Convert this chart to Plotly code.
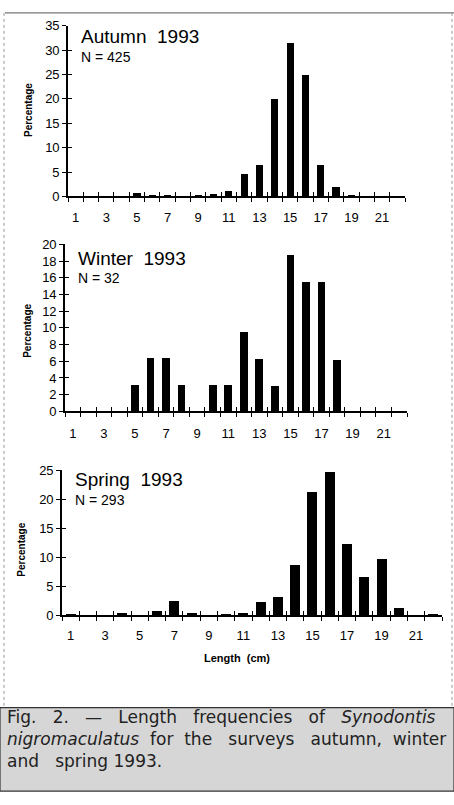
import plotly.graph_objects as go

# ---------------- data ----------------
lengths = list(range(1, 23))
autumn = [0, 0, 0, 0, 0.7, 0.3, 0.3, 0, 0.3, 0.5, 1.2, 4.6, 6.5, 20.0, 31.5, 25.0, 6.6, 2.0, 0.4, 0.1, 0.1, 0]
winter = [0, 0, 0, 0, 3.1, 6.3, 6.3, 3.1, 0, 3.1, 3.1, 9.4, 6.2, 3.0, 18.7, 15.4, 15.4, 6.1, 0, 0, 0, 0]
spring = [0.1, 0, 0, 0.4, 0, 0.7, 2.5, 0.4, 0, 0.3, 0.4, 2.2, 3.2, 8.6, 21.3, 24.7, 12.3, 6.6, 9.7, 1.3, 0, 0.3]

panel_titles = ["Autumn  1993", "Winter  1993", "Spring  1993"]
panel_n = ["N = 425", "N = 32", "N = 293"]
y_ranges = [35, 20, 25]
y_dticks = [5, 2, 5]
x_ticklabels = [str(v) for v in range(1, 22, 2)]
x_tickvals = list(range(1, 22, 2))
x_minor = [v + 0.5 for v in range(0, 23)]
NB = "\u00a0"
S3 = NB * 3
S2 = NB * 2
caption_lines = [
    f"Fig.{S3}2.{S3}—{S3}Length{S3}frequencies{S3}of{S3}<i>Synodontis</i>",
    f"<i>nigromaculatus</i>{S2}for{S2}the{S3}surveys{S3}autumn,{S2}winter",
    f"and{S3}spring{NB}1993.",
]

W, H = 454, 805
def px(x):
    return x / W
def py(y):
    return 1 - y / H

# panel geometry in pixels: (x_left, x_right, y_top, y_zero)
geo = [(68, 405, 19, 193), (65, 407, 242, 412), (62, 442, 472, 620)]
bar_widths = [0.47, 0.5, 0.58]
label_standoff = [8, 9, 7]
series = [autumn, winter, spring]

TICKFONT = dict(family="Liberation Sans, Arial, sans-serif", size=13, color="black")

fig = go.Figure()
layout = dict(width=W, height=H, margin=dict(l=0, r=0, t=0, b=0),
              paper_bgcolor="white", plot_bgcolor="white", showlegend=False,
              bargap=0)

for i in range(3):
    n = i + 1
    xl, xr, yt, yz = geo[i]
    xs = "" if n == 1 else str(n)
    ov = str(n + 3)
    fig.add_trace(go.Bar(x=lengths, y=series[i], width=bar_widths[i],
                         marker=dict(color="black", line=dict(width=0)),
                         xaxis="x" + xs, yaxis="y" + xs))
    # empty trace for overlay axes (crossing ticks)
    fig.add_trace(go.Scatter(x=[None], y=[None], xaxis="x" + ov, yaxis="y" + ov,
                             mode="markers", hoverinfo="skip"))
    xdom = [px(xl), px(xr)]
    ydom = [py(yz), py(yt)]
    xax = dict(domain=xdom, anchor="y" + xs, range=[0.5, 22.5],
               tickmode="array", tickvals=x_tickvals, ticktext=x_ticklabels,
               ticks="", showgrid=False, zeroline=False,
               showline=True, linecolor="black", linewidth=1.6,
               tickfont=TICKFONT, ticklabelstandoff=label_standoff[i],
               minor=dict(tickmode="array", tickvals=x_minor, ticks="outside",
                          ticklen=4, tickwidth=1.3, tickcolor="black", showgrid=False))
    yax = dict(domain=ydom, anchor="x" + xs, range=[0, y_ranges[i]],
               tickmode="linear", tick0=0, dtick=y_dticks[i],
               ticks="outside", ticklen=4, tickwidth=1.3, tickcolor="black",
               showgrid=False, zeroline=False, showline=True,
               linecolor="black", linewidth=1.6, tickfont=TICKFONT)
    xov = dict(overlaying="x" + xs, anchor="y" + ov, range=[0.5, 22.5],
               showticklabels=False, showgrid=False, zeroline=False, showline=False,
               tickmode="array", tickvals=x_minor, ticks="inside", ticklen=4,
               tickwidth=1.3, tickcolor="black")
    yov = dict(overlaying="y" + xs, anchor="x" + ov, range=[0, y_ranges[i]],
               showticklabels=False, showgrid=False, zeroline=False, showline=False,
               tickmode="linear", tick0=0, dtick=y_dticks[i], ticks="inside",
               ticklen=4, tickwidth=1.3, tickcolor="black")
    layout["xaxis" + xs] = xax
    layout["yaxis" + xs] = yax
    layout["xaxis" + ov] = xov
    layout["yaxis" + ov] = yov

fig.update_layout(**layout)

ann = []
title_pos = [(79, 30, 51), (76, 256, 276), (73, 481, 502)]
for i in range(3):
    x0, yt_, yn_ = title_pos[i]
    ann.append(dict(x=px(x0), y=py(yt_), xref="paper", yref="paper", xanchor="left",
                    yanchor="middle", showarrow=False, text=panel_titles[i],
                    font=dict(family="Liberation Sans, Arial, sans-serif", size=19, color="black")))
    ann.append(dict(x=px(x0), y=py(yn_), xref="paper", yref="paper", xanchor="left",
                    yanchor="middle", showarrow=False, text=panel_n[i],
                    font=dict(family="Liberation Sans, Arial, sans-serif", size=14, color="black")))
perc_pos = [(28, 105), (28, 330), (22, 553)]
for (x0, y0) in perc_pos:
    ann.append(dict(x=px(x0), y=py(y0), xref="paper", yref="paper", xanchor="center",
                    yanchor="middle", showarrow=False, text="<b>Percentage</b>", textangle=-90,
                    font=dict(family="Liberation Sans, Arial, sans-serif",
                              size=10, color="black")))
ann.append(dict(x=px(237), y=py(663), xref="paper", yref="paper", xanchor="center",
                yanchor="middle", showarrow=False, text="<b>Length  (cm)</b>",
                font=dict(family="Liberation Sans, Arial, sans-serif", size=11, color="black")))
ann.append(dict(x=px(5), y=py(746), xref="paper", yref="paper", xanchor="left",
                yanchor="middle", align="left", showarrow=False,
                text="<br>".join(caption_lines),
                font=dict(family="DejaVu Sans, sans-serif", size=17, color="#222222")))
fig.update_layout(annotations=ann)

shapes = [
    dict(type="rect", xref="paper", yref="paper", x0=0, x1=1, y0=py(799), y1=py(714),
         fillcolor="#d6d6d6", line=dict(color="#333333", width=1.2), layer="below"),
    dict(type="line", xref="paper", yref="paper", x0=px(5), x1=1, y0=py(6), y1=py(6),
         line=dict(color="#777777", width=1.2)),
    dict(type="line", xref="paper", yref="paper", x0=px(4), x1=px(4), y0=py(6), y1=py(714),
         line=dict(color="#999999", width=1, dash="dot")),
    dict(type="line", xref="paper", yref="paper", x0=px(452), x1=px(452), y0=py(6), y1=py(714),
         line=dict(color="#999999", width=1, dash="dot")),
]
fig.update_layout(shapes=shapes)

fig.write_html("out.html", config={"displayModeBar": False},
               post_script="document.body.style.margin='0';")
